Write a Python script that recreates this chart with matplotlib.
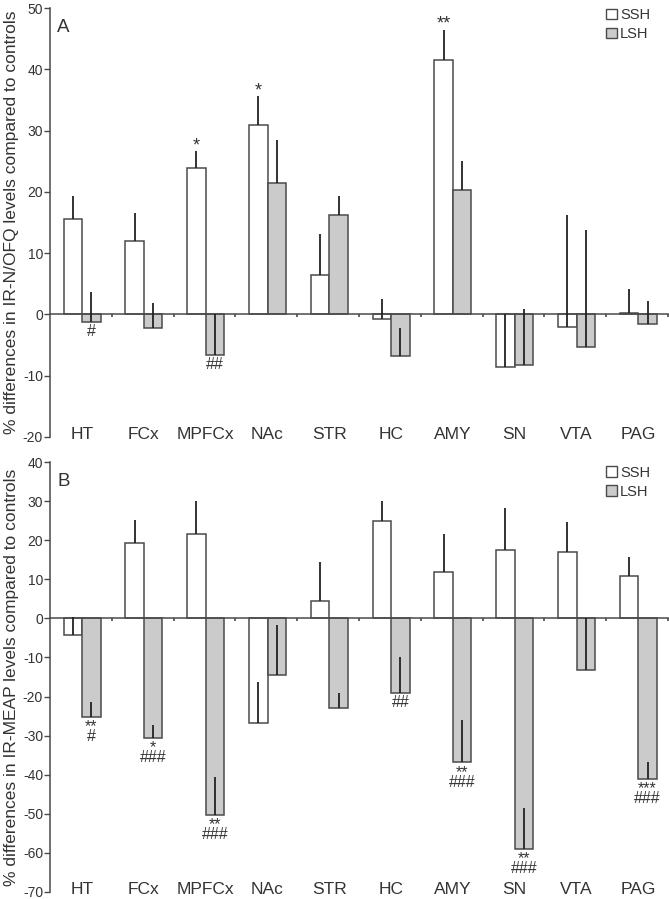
import matplotlib
matplotlib.use('Agg')
import matplotlib.pyplot as plt
import numpy as np
from matplotlib.patches import Patch

plt.rcParams['font.family'] = ['Liberation Sans', 'DejaVu Sans']
plt.rcParams['axes.unicode_minus'] = False

regions = ['HT', 'FCx', 'MPFCx', 'NAc', 'STR', 'HC', 'AMY', 'SN', 'VTA', 'PAG']

# panel A: IR-N/OFQ
a_ssh = [15.5, 11.9, 23.9, 30.9, 6.4, -0.7, 41.6, -8.6, -2.1, 0.3]
a_ssh_err = [3.9, 4.7, 2.7, 4.7, 6.8, 3.2, 4.8, 8.6, 18.3, 3.9]
a_lsh = [-1.3, -2.3, -6.6, 21.4, 16.3, -6.8, 20.3, -8.2, -5.4, -1.5]
a_lsh_err = [5.0, 4.1, 6.6, 7.1, 3.1, 4.5, 4.7, 9.1, 19.1, 3.7]
a_ssh_star = ['', '', '*', '*', '', '', '**', '', '', '']
a_lsh_star = ['', '', '', '', '', '', '', '', '', '']
a_lsh_hash = ['#', '', '##', '', '', '', '', '', '', '']

# panel B: IR-MEAP
b_ssh = [-4.3, 19.3, 21.5, -26.7, 4.5, 25.0, 11.9, 17.4, 17.0, 10.9]
b_ssh_err = [4.7, 6.0, 8.6, 10.4, 9.9, 5.1, 9.8, 10.8, 7.6, 4.8]
b_lsh = [-25.2, -30.6, -50.3, -14.5, -22.8, -19.0, -36.8, -59.0, -13.2, -41.0]
b_lsh_err = [3.9, 3.2, 9.6, 12.7, 3.6, 9.2, 10.9, 10.6, 13.2, 4.2]
b_ssh_star = ['', '', '', '', '', '', '', '', '', '']
b_lsh_star = ['**', '*', '**', '', '', '', '**', '**', '', '***']
b_lsh_hash = ['#', '###', '###', '', '', '##', '###', '###', '', '###']

edge = '#4a4a4a'
txt = '#333333'

fig = plt.figure(figsize=(6.69, 8.99), dpi=100)
axA = fig.add_axes([0.0747, 0.514, 0.9238, 0.477])
axB = fig.add_axes([0.0747, 0.0078, 0.9238, 0.4782])


def panel(ax, ssh, ssh_err, lsh, lsh_err, ssh_star, lsh_star, lsh_hash, ylim, yticks, ylabel, letter, legy):
    x = np.arange(len(regions)) + 0.52
    w = 0.3
    ax.bar(x - w / 2, ssh, w, color='white', edgecolor=edge, linewidth=1.1, zorder=2)
    ax.bar(x + w / 2, lsh, w, color='#cbcbcb', edgecolor=edge, linewidth=1.1, zorder=2)
    # error lines always drawn upward from bar end
    ax.vlines(x - w / 2, ssh, np.array(ssh) + np.array(ssh_err), color='#222222', lw=1.3, zorder=3)
    ax.vlines(x + w / 2, lsh, np.array(lsh) + np.array(lsh_err), color='#222222', lw=1.3, zorder=3)

    for i in range(len(regions)):
        if ssh_star[i]:
            ax.annotate(ssh_star[i], (x[i] - w / 2, ssh[i] + ssh_err[i]), xytext=(0, -2),
                        textcoords='offset points', ha='center', va='bottom', fontsize=13, color=txt)
        if lsh_star[i] or lsh_hash[i]:
            if lsh_star[i]:
                s = lsh_star[i] + '\n' + lsh_hash[i]
                off = -1.8
            else:
                s = lsh_hash[i]
                off = -1.5
            ax.annotate(s, (x[i] + w / 2, lsh[i]), xytext=(0, off),
                        textcoords='offset points', ha='center', va='top', fontsize=11.5,
                        linespacing=0.58, color=txt)

    ax.set_xlim(0, 10)
    ax.set_ylim(*ylim)
    ax.set_yticks(yticks)
    ax.set_xticks(np.arange(1, 11))
    ax.set_xticklabels([])
    ax.tick_params(axis='x', length=2.5, width=1.2, color=edge, direction='out')
    ax.tick_params(axis='y', length=4, width=1.0, color=edge, labelsize=10, labelcolor=txt, pad=1)
    ax.spines['top'].set_visible(False)
    ax.spines['right'].set_visible(False)
    ax.spines['bottom'].set_position(('data', 0))
    ax.spines['bottom'].set_color(edge)
    ax.spines['left'].set_color(edge)
    ax.spines['bottom'].set_linewidth(1.1)
    ax.spines['left'].set_linewidth(1.1)
    for i, r in enumerate(regions):
        ax.annotate(r, (x[i], 0), xycoords=('data', 'axes fraction'), xytext=(0, -1.5),
                    textcoords='offset points', ha='center', va='baseline',
                    fontsize=12.5, color=txt, annotation_clip=False)
    ax.set_ylabel(ylabel, fontsize=12.5, color=txt, labelpad=3)
    ax.text(0.012, 0.975, letter, transform=ax.transAxes, fontsize=13.5, color=txt, va='top')
    handles = [Patch(facecolor='white', edgecolor=edge, label='SSH'),
               Patch(facecolor='#cbcbcb', edgecolor=edge, label='LSH')]
    leg = ax.legend(handles=handles, loc='upper right', bbox_to_anchor=(0.971, legy),
                    frameon=False, fontsize=10.5,
                    handlelength=0.75, handleheight=0.75, handletextpad=0.2,
                    labelspacing=0.35, borderaxespad=0.0, borderpad=0.0)
    for t in leg.get_texts():
        t.set_color(txt)


panel(axA, a_ssh, a_ssh_err, a_lsh, a_lsh_err, a_ssh_star, a_lsh_star, a_lsh_hash,
      (-20, 50), np.arange(-20, 51, 10),
      '% differences in IR-N/OFQ levels compared to controls', 'A', 1.0)
panel(axB, b_ssh, b_ssh_err, b_lsh, b_lsh_err, b_ssh_star, b_lsh_star, b_lsh_hash,
      (-70, 40), np.arange(-70, 41, 10),
      '% differences in IR-MEAP levels compared to controls', 'B', 0.992)

fig.savefig('out.png', dpi=100)
